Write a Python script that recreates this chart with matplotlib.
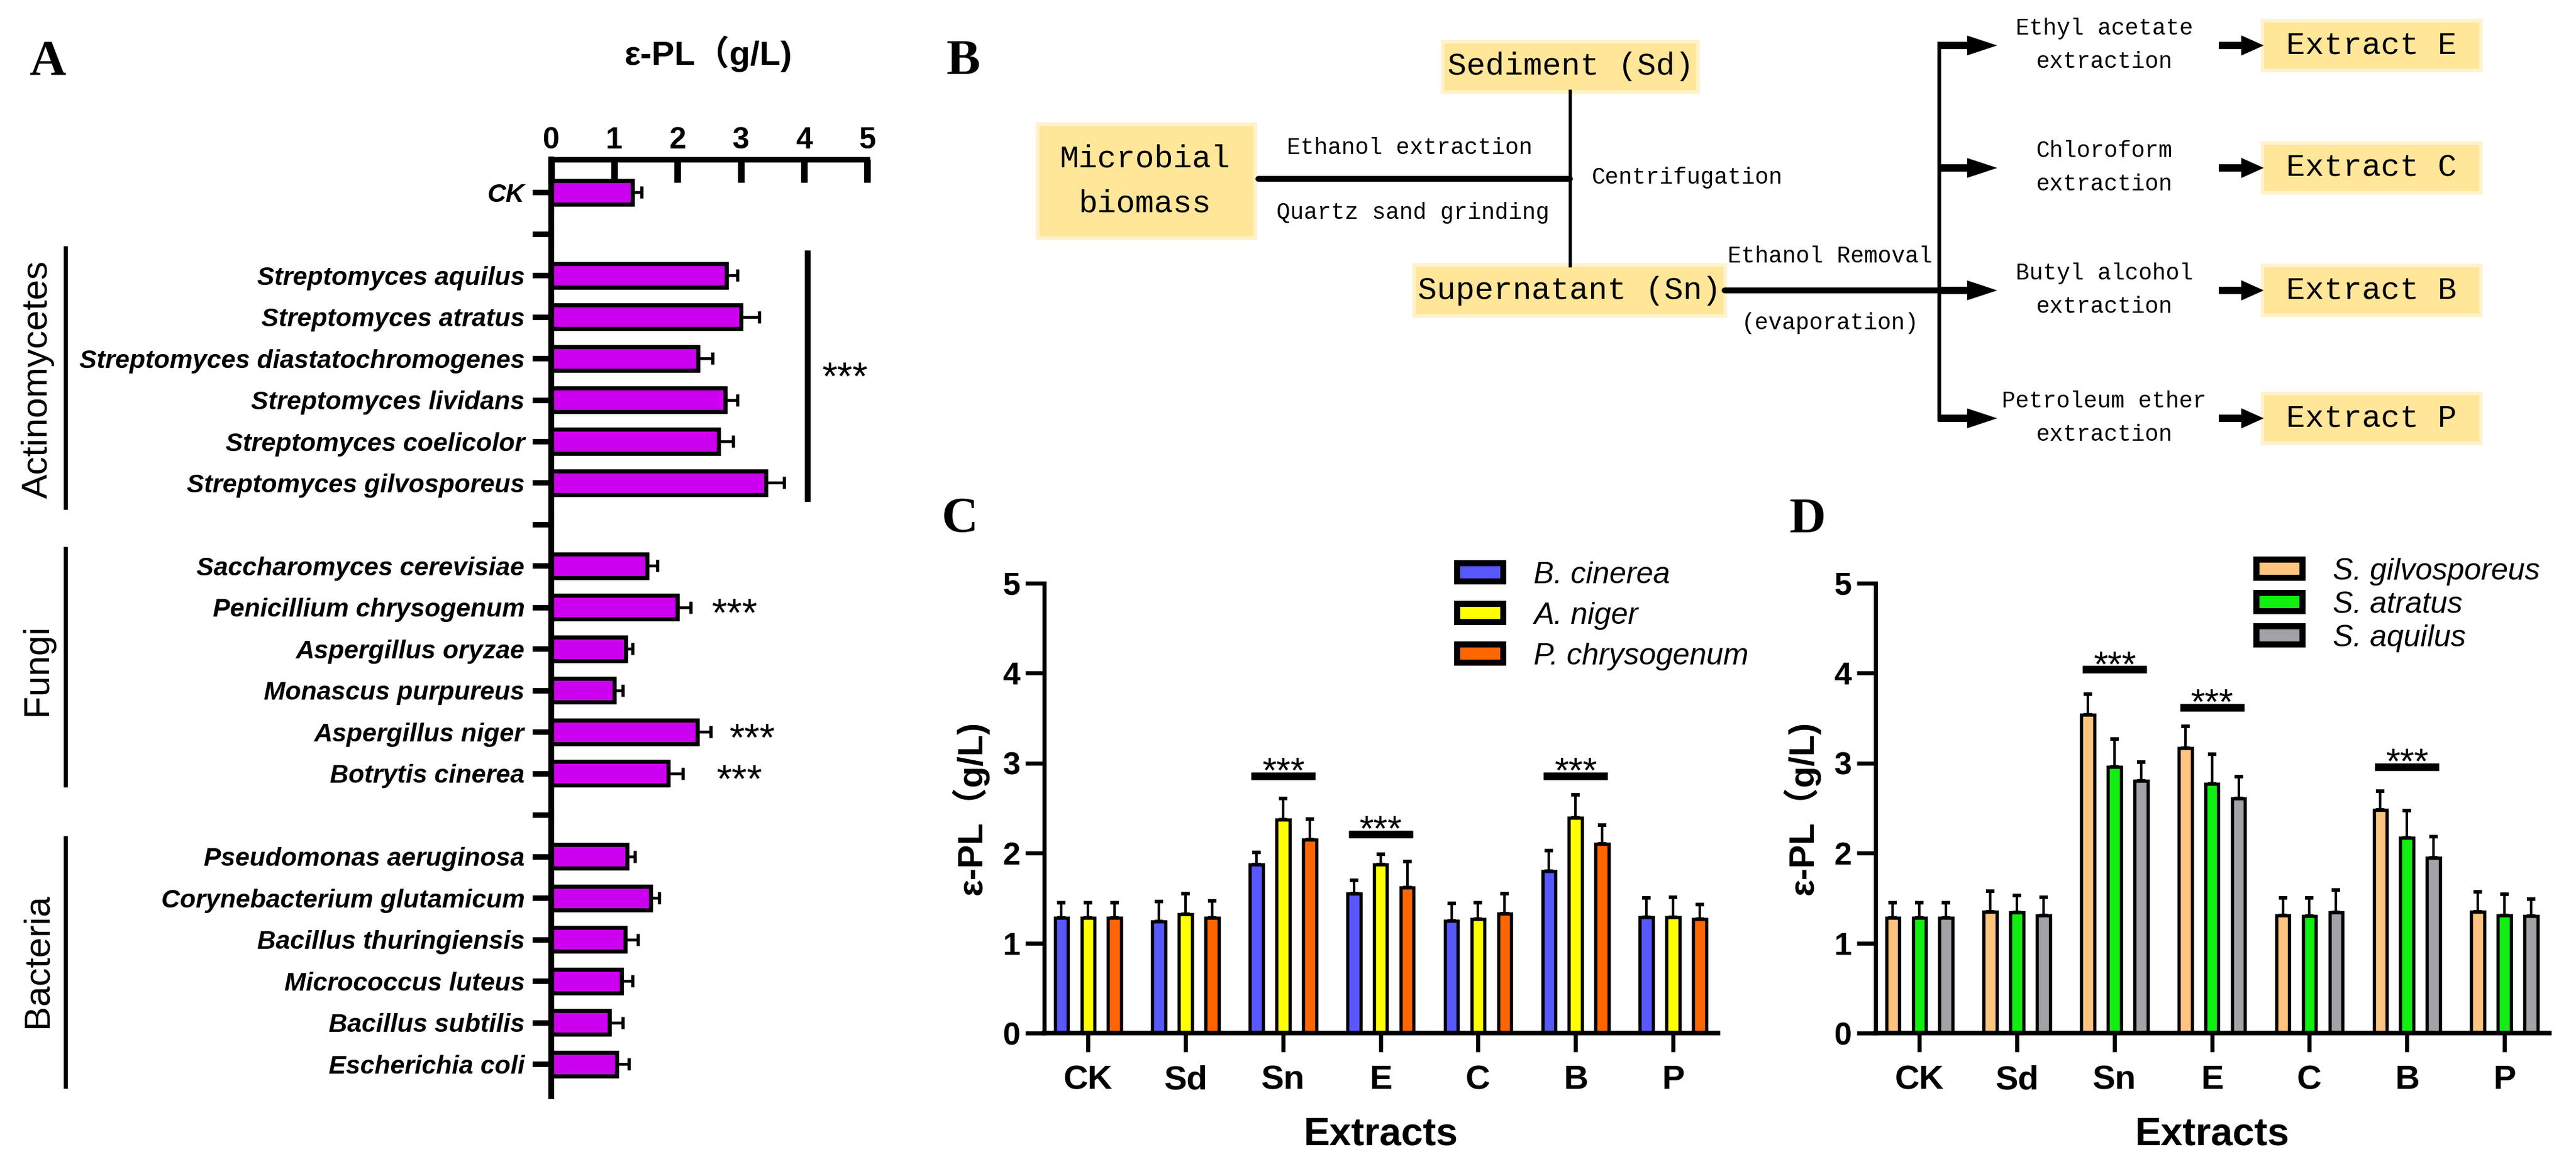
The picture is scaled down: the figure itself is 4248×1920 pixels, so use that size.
import numpy as np
import matplotlib
matplotlib.use('Agg')
import matplotlib.pyplot as plt
import matplotlib.transforms as mtransforms
from matplotlib.patches import Rectangle

plt.rcParams['font.family'] = ['Liberation Sans', 'Noto Sans CJK SC']

W, H = 4248, 1920

# ---------------- data ----------------
a_labels = ['CK', '',
            'Streptomyces aquilus', 'Streptomyces atratus', 'Streptomyces diastatochromogenes',
            'Streptomyces lividans', 'Streptomyces coelicolor', 'Streptomyces gilvosporeus', '',
            'Saccharomyces cerevisiae', 'Penicillium chrysogenum', 'Aspergillus oryzae',
            'Monascus purpureus', 'Aspergillus niger', 'Botrytis cinerea', '',
            'Pseudomonas aeruginosa', 'Corynebacterium glutamicum', 'Bacillus thuringiensis',
            'Micrococcus luteus', 'Bacillus subtilis', 'Escherichia coli']
a_mean = [1.29, np.nan, 2.77, 3.00, 2.32, 2.75, 2.65, 3.40, np.nan,
          1.52, 2.00, 1.18, 1.00, 2.31, 1.85, np.nan,
          1.20, 1.57, 1.17, 1.11, 0.92, 1.04]
a_sd = [0.14, np.nan, 0.18, 0.29, 0.23, 0.20, 0.23, 0.29, np.nan,
        0.16, 0.21, 0.11, 0.13, 0.21, 0.23, np.nan,
        0.12, 0.14, 0.20, 0.18, 0.21, 0.19]
a_sig = {'Penicillium chrysogenum': 2.91, 'Aspergillus niger': 3.18, 'Botrytis cinerea': 2.98}

extracts = ['CK', 'Sd', 'Sn', 'E', 'C', 'B', 'P']

c_names = ['B. cinerea', 'A. niger', 'P. chrysogenum']
c_colors = ['#5858FF', '#FFFF00', '#FF6600']
c_mean = [[1.28, 1.24, 1.87, 1.55, 1.25, 1.80, 1.29],
          [1.28, 1.32, 2.37, 1.87, 1.27, 2.39, 1.29],
          [1.28, 1.28, 2.15, 1.62, 1.33, 2.10, 1.27]]
c_sd = [[0.17, 0.22, 0.14, 0.15, 0.19, 0.23, 0.21],
        [0.17, 0.23, 0.24, 0.12, 0.18, 0.26, 0.22],
        [0.17, 0.19, 0.23, 0.29, 0.22, 0.21, 0.16]]
c_sig = [('Sn', 2.86), ('E', 2.21), ('B', 2.86)]

d_names = ['S. gilvosporeus', 'S. atratus', 'S. aquilus']
d_colors = ['#FFC47F', '#11EE11', '#A2A2A8']
d_mean = [[1.28, 1.35, 3.54, 3.17, 1.31, 2.48, 1.35],
          [1.28, 1.34, 2.96, 2.77, 1.30, 2.17, 1.31],
          [1.28, 1.31, 2.80, 2.61, 1.34, 1.95, 1.30]]
d_sd = [[0.17, 0.23, 0.23, 0.24, 0.19, 0.21, 0.22],
        [0.17, 0.19, 0.31, 0.33, 0.20, 0.30, 0.23],
        [0.17, 0.20, 0.21, 0.24, 0.25, 0.23, 0.19]]
d_sig = [('Sn', 4.04), ('E', 3.62), ('B', 2.96)]

fig = plt.figure(figsize=(W / 300, H / 300), dpi=300)

# overlay axes in pixel coords for the flowchart and panel letters
ov = fig.add_axes([0, 0, 1, 1])
ov.set_xlim(0, W)
ov.set_ylim(H, 0)
ov.axis('off')

serif = 'Liberation Serif'
for letter, (x, y) in {'A': (78, 103), 'B': (1588, 102), 'C': (1583, 858), 'D': (2981, 858)}.items():
    ov.text(x, y, letter, family=serif, fontweight='bold', fontsize=20, ha='center', va='center')

# ---------------- panel A ----------------
axA = fig.add_axes([909 / W, 1 - 1808 / H, (1430 - 909) / W, (1808 - 263) / H])
ya = np.arange(len(a_labels))
ma = np.array(a_mean)
sa = np.array(a_sd)
ok = ~np.isnan(ma)
axA.errorbar(ma[ok], ya[ok], xerr=[np.zeros(ok.sum()), sa[ok]], fmt='none', ecolor='k',
             elinewidth=1.1, capsize=2.4, capthick=1.3, zorder=1)
axA.barh(ya[ok], ma[ok], height=0.57, color='#CC00EE', edgecolor='k', linewidth=1.6, zorder=2)
axA.set_xlim(0, 5)
axA.set_ylim(21.77, -0.79)
axA.xaxis.tick_top()
axA.set_xticks(range(6))
axA.tick_params(axis='x', direction='in', length=9, width=2.6, labelsize=12, pad=2)
for t in axA.get_xticklabels():
    t.set_fontweight('bold')
axA.set_yticks(ya)
axA.set_yticklabels(a_labels, fontsize=10.2, fontweight='bold', style='italic')
axA.tick_params(axis='y', length=7.5, width=2.2, pad=3)
for s in ['right', 'bottom']:
    axA.spines[s].set_visible(False)
axA.spines['top'].set_linewidth(2.2)
axA.spines['left'].set_linewidth(2.3)
fig.text(1168 / W, 1 - 89 / H, 'ε-PL（g/L)', fontsize=13.5, fontweight='bold', ha='center', va='center')

# group brackets on the left
trA = mtransforms.blended_transform_factory(fig.transFigure, axA.transData)
groups = [('Actinomycetes', 1.34, 7.59, 4.5), ('Fungi', 8.58, 14.28, 11.5), ('Bacteria', 15.55, 21.53, 18.5)]
for name, y0, y1, yc in groups:
    axA.plot([108 / W, 108 / W], [y0, y1], color='k', lw=1.6, transform=trA, clip_on=False)
    axA.text(62 / W, yc, name, rotation=90, fontsize=14.5, ha='center', va='center', transform=trA)

# significance marks
axA.plot([4.06, 4.06], [1.48, 7.39], color='k', lw=2.3, clip_on=False)
axA.text(4.65, 4.5, '***', fontsize=15.5, ha='center', va='center')
for lab, xs in a_sig.items():
    axA.text(xs, a_labels.index(lab) + 0.2, '***', fontsize=15.5, ha='center', va='center')


# ---------------- panels C, D ----------------
def grouped(ax, means, sds, colors, names, sig, leg_xy, leg_space):
    x = np.arange(len(extracts))
    off = 0.273
    handles = []
    for j, (m, s, c) in enumerate(zip(means, sds, colors)):
        xx = x + (j - 1) * off
        ax.errorbar(xx, m, yerr=[np.zeros(len(m)), s], fmt='none', ecolor='k',
                    elinewidth=1.0, capsize=1.6, capthick=1.4, zorder=1)
        h = ax.bar(xx, m, width=0.134, color=c, edgecolor='k', linewidth=1.3, zorder=2)
        handles.append(h)
    for lab, yv in sig:
        i = extracts.index(lab)
        ax.plot([i - 0.33, i + 0.33], [yv, yv], color='k', lw=3, solid_capstyle='butt')
        ax.text(i, yv - 0.07, '***', fontsize=14.5, ha='center', va='baseline')
    ax.set_xlim(-0.45, 6.46)
    ax.set_ylim(0, 5)
    ax.set_xticks(x)
    ax.set_xticklabels(extracts, fontsize=13.5, fontweight='bold')
    ax.set_yticks(range(6))
    ax.tick_params(axis='y', length=7.5, width=1.6, labelsize=12.5, pad=2)
    ax.tick_params(axis='x', length=7.5, width=1.6, pad=5)
    for t in ax.get_yticklabels():
        t.set_fontweight('bold')
    for s in ['right', 'top']:
        ax.spines[s].set_visible(False)
    ax.spines['left'].set_linewidth(1.6)
    ax.spines['bottom'].set_linewidth(1.8)
    ax.set_ylabel('ε-PL（g/L)', fontsize=14, fontweight='bold')
    ax.yaxis.set_label_coords(-0.082, 0.5)
    ax.set_xlabel('Extracts', fontsize=15.5, fontweight='bold', va='top')
    ax.xaxis.set_label_coords(0.5, -0.185)
    leg = ax.legend(handles, names, loc='upper left', bbox_to_anchor=leg_xy,
                    bbox_transform=fig.transFigure, frameon=False, borderpad=0,
                    borderaxespad=0, handlelength=1.52, handleheight=0.54,
                    handletextpad=1.0, labelspacing=leg_space,
                    prop={'size': 12, 'style': 'italic'})
    for p in leg.get_patches():
        p.set_linewidth(2.4)


axC = fig.add_axes([1722 / W, 1 - 1704 / H, (2833 - 1722) / W, (1704 - 962) / H])
grouped(axC, c_mean, c_sd, c_colors, c_names, c_sig, (2403 / W, 1 - 926 / H), 0.42)
axD = fig.add_axes([3093 / W, 1 - 1704 / H, (4204 - 3093) / W, (1704 - 962) / H])
grouped(axD, d_mean, d_sd, d_colors, d_names, d_sig, (3721 / W, 1 - 920 / H), 0.18)

# ---------------- panel B: flowchart ----------------
mono = 'Liberation Mono'
box_col = '#FFE699'


def box(x0, y0, x1, y1):
    ov.add_patch(Rectangle((x0 - 6, y0 - 6), x1 - x0 + 12, y1 - y0 + 12, color='#FFF2CC', lw=0, zorder=1))
    ov.add_patch(Rectangle((x0, y0), x1 - x0, y1 - y0, color=box_col, lw=0, zorder=2))


def label(x, y, s, size):
    ov.text(x, y, s, family=mono, fontsize=size, ha='center', va='center', zorder=3)


box(1714, 208, 2067, 390)
label(1888, 262, 'Microbial', 12.5)
label(1888, 336, 'biomass', 12.5)
box(2382, 72, 2797, 149)
label(2590, 110, 'Sediment (Sd)', 12.5)
box(2335, 440, 2842, 518)
label(2588, 479, 'Supernatant (Sn)', 12.5)

ov.plot([2075, 2589], [295, 295], color='k', lw=2.3, solid_capstyle='round')
ov.plot([2589, 2589], [150, 438], color='k', lw=1.3)
label(2324, 244, 'Ethanol extraction', 9)
label(2330, 351, 'Quartz sand grinding', 9)
ov.text(2625, 293, 'Centrifugation', family=mono, fontsize=9, ha='left', va='center')

ov.plot([2844, 3198], [479, 479], color='k', lw=2.3, solid_capstyle='round')
label(3018, 423, 'Ethanol Removal', 9)
label(3018, 533, '(evaporation)', 9)
ov.plot([3198, 3198], [72, 692], color='k', lw=1.5)

branch_y = [75, 277, 479, 690]
solvents = [('Ethyl acetate', 'extraction'), ('Chloroform', 'extraction'),
            ('Butyl alcohol', 'extraction'), ('Petroleum ether', 'extraction')]
products = ['Extract E', 'Extract C', 'Extract B', 'Extract P']
for yb, (s1, s2), prod in zip(branch_y, solvents, products):
    ov.arrow(3198, yb, 89, 0, width=8, head_width=27, head_length=41,
             length_includes_head=True, color='k', zorder=3)
    label(3470, yb - 28, s1, 9)
    label(3470, yb + 27, s2, 9)
    ov.arrow(3661, yb, 67, 0, width=8, head_width=27, head_length=30,
             length_includes_head=True, color='k', zorder=3)
    box(3734, yb - 38, 4088, yb + 38)
    label(3911, yb, prod, 12.5)

fig.savefig('out.png', dpi=300)
